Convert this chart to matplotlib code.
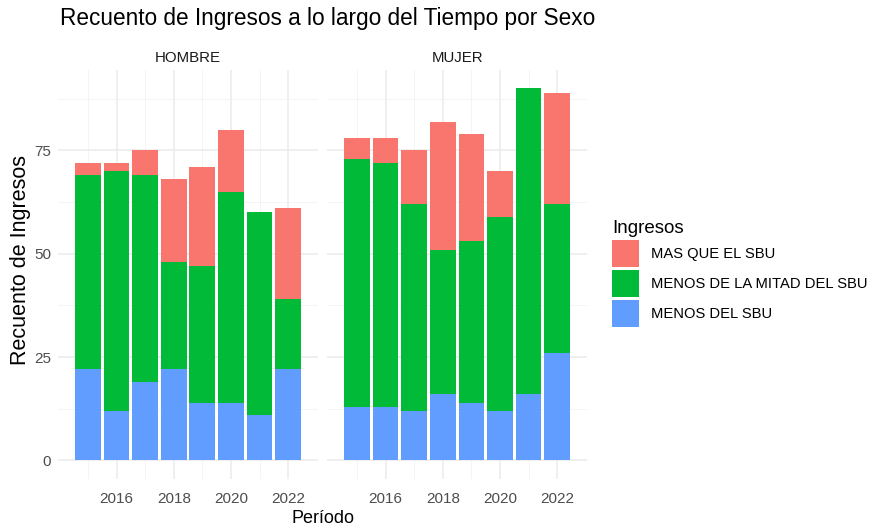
import numpy as np
import matplotlib.pyplot as plt
from matplotlib.patches import Patch

plt.rcParams['font.family'] = ['Liberation Sans', 'DejaVu Sans']

years = [2015, 2016, 2017, 2018, 2019, 2020, 2021, 2022]
sexos = ['HOMBRE', 'MUJER']
categorias = ['MAS QUE EL SBU', 'MENOS DE LA MITAD DEL SBU', 'MENOS DEL SBU']
colores = ['#F8766D', '#00BA38', '#619CFF']

# counts per year, one list per sex and income group
hombre_menos_sbu = [22, 12, 19, 22, 14, 14, 11, 22]
hombre_mitad_sbu = [47, 58, 50, 26, 33, 51, 49, 17]
hombre_mas_sbu = [3, 2, 6, 20, 24, 15, 0, 22]

mujer_menos_sbu = [13, 13, 12, 16, 14, 12, 16, 26]
mujer_mitad_sbu = [60, 59, 50, 35, 39, 47, 74, 36]
mujer_mas_sbu = [5, 6, 13, 31, 26, 11, 0, 27]

datos = {
    'HOMBRE': (hombre_menos_sbu, hombre_mitad_sbu, hombre_mas_sbu),
    'MUJER': (mujer_menos_sbu, mujer_mitad_sbu, mujer_mas_sbu),
}

fig = plt.figure(figsize=(8.73, 5.3), dpi=100, facecolor='white')
ax1 = fig.add_axes([0.0664, 0.0962, 0.298, 0.772])
ax2 = fig.add_axes([0.3746, 0.0962, 0.298, 0.772], sharey=ax1)

for ax, sexo in zip([ax1, ax2], sexos):
    menos, mitad, mas = datos[sexo]
    menos = np.array(menos)
    mitad = np.array(mitad)
    mas = np.array(mas)
    ax.bar(years, menos, width=0.9, color=colores[2], zorder=2)
    ax.bar(years, mitad, width=0.9, bottom=menos, color=colores[1], zorder=2)
    ax.bar(years, mas, width=0.9, bottom=menos + mitad, color=colores[0], zorder=2)

    ax.set_xlim(2013.95, 2023.05)
    ax.set_ylim(-4.5, 94.5)
    ax.set_xticks([2016, 2018, 2020, 2022])
    ax.set_xticks([2015, 2017, 2019, 2021], minor=True)
    ax.set_yticks([0, 25, 50, 75])
    ax.set_yticks([12.5, 37.5, 62.5, 87.5], minor=True)
    ax.grid(True, which='major', color='#EBEBEB', linewidth=1.1, zorder=0)
    ax.grid(True, which='minor', color='#F2F2F2', linewidth=0.6, zorder=0)
    ax.tick_params(which='both', length=0, labelsize=11, labelcolor='#4D4D4D', pad=5)
    ax.tick_params(axis='x', pad=9)
    for s in ax.spines.values():
        s.set_visible(False)
    ax.set_title(sexo, fontsize=10.8, color='#1A1A1A', pad=6)

ax2.tick_params(axis='y', labelleft=False)

fig.text(0.024, 0.51, 'Recuento de Ingresos', rotation=90, ha='center', va='center',
         fontsize=15.5)
fig.text(0.3705, 0.005, 'Período', ha='center', va='bottom', fontsize=13)
fig.text(0.069, 0.966, 'Recuento de Ingresos a lo largo del Tiempo por Sexo',
         ha='left', va='center', fontsize=16.3)

handles = [Patch(facecolor=c, edgecolor='none') for c in colores]
leg = fig.legend(handles, categorias, title='Ingresos', loc='upper left',
                 bbox_to_anchor=(0.701, 0.584), frameon=False, fontsize=10.6,
                 title_fontsize=13.5, handlelength=1.83, handleheight=2.45,
                 handletextpad=0.8, labelspacing=0.2, borderaxespad=0, borderpad=0)
leg._legend_box.align = 'left'

fig.savefig('out.png', dpi=100, facecolor='white')
